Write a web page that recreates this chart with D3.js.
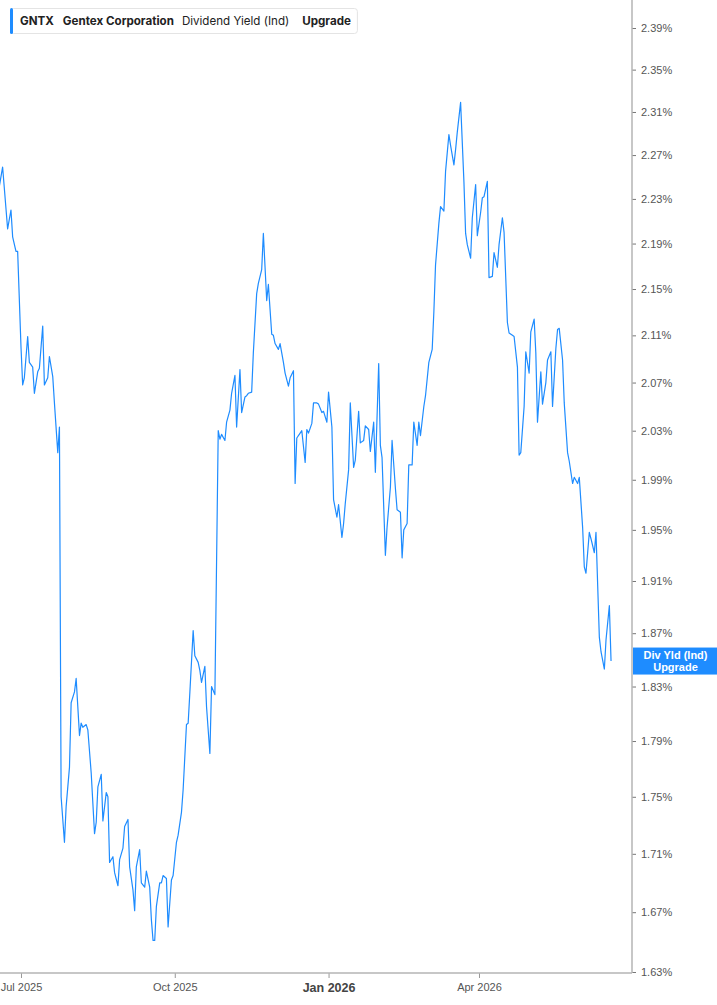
<!DOCTYPE html>
<html>
<head>
<meta charset="utf-8">
<script src="https://cdn.jsdelivr.net/npm/d3@7"></script>
<style>
  html, body { margin: 0; padding: 0; background: #fff; }
  svg { display: block; }
</style>
</head>
<body>
<svg id="chart" width="717" height="1005"></svg>
<script>
// ---- data ----
const dates = [
"2025-06-18","2025-06-20","2025-06-23","2025-06-25","2025-06-26","2025-06-28","2025-06-29","2025-07-01","2025-07-02","2025-07-03",
"2025-07-05","2025-07-06","2025-07-08","2025-07-09","2025-07-11","2025-07-12","2025-07-14","2025-07-15","2025-07-17","2025-07-18",
"2025-07-20","2025-07-21","2025-07-23","2025-07-24","2025-07-25","2025-07-27","2025-07-28","2025-07-30","2025-07-31","2025-08-02",
"2025-08-03","2025-08-05","2025-08-06","2025-08-07","2025-08-09","2025-08-10","2025-08-12","2025-08-14","2025-08-15","2025-08-16",
"2025-08-18","2025-08-19","2025-08-21","2025-08-22","2025-08-23","2025-08-25","2025-08-26","2025-08-28","2025-08-29","2025-08-31",
"2025-09-01","2025-09-03","2025-09-04","2025-09-06","2025-09-07","2025-09-08","2025-09-10","2025-09-11","2025-09-13","2025-09-14",
"2025-09-16","2025-09-17","2025-09-18","2025-09-19","2025-09-20","2025-09-22","2025-09-23","2025-09-24","2025-09-26","2025-09-27",
"2025-09-29","2025-09-30","2025-10-02","2025-10-03","2025-10-05","2025-10-06","2025-10-08","2025-10-09","2025-10-10","2025-10-12",
"2025-10-13","2025-10-15","2025-10-16","2025-10-17","2025-10-19","2025-10-20","2025-10-22","2025-10-23","2025-10-25","2025-10-27",
"2025-10-28","2025-10-29","2025-10-31","2025-11-01","2025-11-03","2025-11-04","2025-11-06","2025-11-07","2025-11-09","2025-11-10",
"2025-11-12","2025-11-13","2025-11-14","2025-11-16","2025-11-17","2025-11-19","2025-11-20","2025-11-22","2025-11-23","2025-11-25",
"2025-11-26","2025-11-28","2025-11-29","2025-11-30","2025-12-02","2025-12-03","2025-12-05","2025-12-06","2025-12-08","2025-12-09",
"2025-12-11","2025-12-12","2025-12-13","2025-12-15","2025-12-16","2025-12-18","2025-12-19","2025-12-20","2025-12-22","2025-12-23",
"2025-12-25","2025-12-26","2025-12-28","2025-12-29","2025-12-31","2026-01-01","2026-01-03","2026-01-04","2026-01-06","2026-01-07",
"2026-01-09","2026-01-10","2026-01-11","2026-01-13","2026-01-14","2026-01-16","2026-01-17","2026-01-19","2026-01-20","2026-01-22",
"2026-01-23","2026-01-25","2026-01-26","2026-01-28","2026-01-29","2026-01-31","2026-02-01","2026-02-02","2026-02-04","2026-02-05",
"2026-02-07","2026-02-08","2026-02-10","2026-02-11","2026-02-13","2026-02-14","2026-02-15","2026-02-17","2026-02-18","2026-02-20",
"2026-02-21","2026-02-23","2026-02-24","2026-02-25","2026-02-27","2026-02-28","2026-03-02","2026-03-04","2026-03-05","2026-03-06",
"2026-03-08","2026-03-09","2026-03-11","2026-03-12","2026-03-14","2026-03-15","2026-03-17","2026-03-18","2026-03-19","2026-03-21",
"2026-03-23","2026-03-24","2026-03-25","2026-03-27","2026-03-28","2026-03-30","2026-03-31","2026-04-02","2026-04-03","2026-04-04",
"2026-04-06","2026-04-07","2026-04-09","2026-04-10","2026-04-12","2026-04-13","2026-04-15","2026-04-16","2026-04-18","2026-04-19",
"2026-04-21","2026-04-22","2026-04-24","2026-04-25","2026-04-26","2026-04-28","2026-04-29","2026-05-01","2026-05-02","2026-05-04",
"2026-05-05","2026-05-06","2026-05-08","2026-05-09","2026-05-11","2026-05-12","2026-05-14","2026-05-15","2026-05-17","2026-05-18",
"2026-05-19","2026-05-21","2026-05-22","2026-05-24","2026-05-25","2026-05-27","2026-05-28","2026-05-30","2026-05-31","2026-06-02",
"2026-06-03","2026-06-04","2026-06-06","2026-06-07","2026-06-09","2026-06-10","2026-06-12","2026-06-13","2026-06-15","2026-06-16",
"2026-06-18","2026-06-19"
];
const divYield = [
2.241,2.259,2.203,2.220,2.196,2.183,2.183,2.100,2.068,2.074,
2.109,2.087,2.083,2.061,2.079,2.082,2.118,2.068,2.074,2.092,
2.075,2.053,2.012,2.033,1.750,1.718,1.743,1.771,1.818,1.826,
1.836,1.794,1.803,1.800,1.802,1.798,1.767,1.724,1.732,1.757,
1.766,1.733,1.753,1.750,1.704,1.708,1.697,1.688,1.706,1.714,
1.729,1.734,1.701,1.685,1.671,1.701,1.713,1.690,1.687,1.698,
1.687,1.665,1.651,1.651,1.674,1.690,1.690,1.695,1.693,1.660,
1.692,1.695,1.718,1.723,1.739,1.755,1.802,1.803,1.825,1.872,
1.853,1.848,1.842,1.833,1.845,1.815,1.781,1.830,1.824,2.030,
2.023,2.027,2.022,2.037,2.047,2.061,2.076,2.033,2.081,2.045,
2.058,2.059,2.061,2.062,2.095,2.146,2.155,2.167,2.199,2.140,
2.154,2.111,2.110,2.103,2.098,2.103,2.087,2.078,2.067,2.074,
2.080,1.987,2.024,2.028,2.030,2.004,2.031,2.028,2.036,2.053,
2.053,2.052,2.045,2.046,2.037,2.062,2.033,1.974,1.960,1.970,
1.944,1.955,1.971,1.998,2.053,2.000,2.006,2.046,2.020,2.022,
2.034,2.031,2.013,2.037,1.996,2.086,2.018,2.008,1.930,1.952,
1.984,2.022,1.983,1.966,1.964,1.928,1.950,1.955,2.002,2.002,
2.037,2.018,2.037,2.026,2.050,2.059,2.087,2.098,2.130,2.171,
2.208,2.223,2.219,2.255,2.289,2.279,2.261,2.275,2.291,2.319,
2.245,2.199,2.189,2.177,2.213,2.243,2.197,2.218,2.231,2.232,
2.246,2.160,2.161,2.182,2.169,2.189,2.213,2.200,2.121,2.112,
2.110,2.109,2.083,2.010,2.012,2.050,2.096,2.078,2.113,2.124,
2.095,2.037,2.079,2.052,2.070,2.089,2.096,2.050,2.099,2.115,
2.116,2.089,2.053,2.012,2.005,1.987,1.992,1.987,1.992,1.952,
1.921,1.916,1.948,1.943,1.932,1.948,1.867,1.856,1.843,1.865,
1.891,1.849
];
const yTickValues = [1.63,1.67,1.71,1.75,1.79,1.83,1.87,1.91,1.95,1.99,2.03,2.07,2.11,2.15,2.19,2.23,2.27,2.31,2.35,2.39];
const xTickDates = ["2025-07-01","2025-10-01","2026-01-01","2026-04-01"];
const xTickLabels = ["Jul 2025","Oct 2025","Jan 2026","Apr 2026"];
const legendItems = [
  {text: "GNTX", weight: 700},
  {text: "Gentex Corporation", weight: 700},
  {text: "Dividend Yield (Ind)", weight: 400},
  {text: "Upgrade", weight: 700}
];
const lastLabel = ["Div Yld (Ind)", "Upgrade"];

// ---- chart ----
const W = 717, H = 1005;
const plotRight = 632, plotBottom = 973;
const blue = "#1e8cff";
const parse = d3.utcParse("%Y-%m-%d");
const data = dates.map((d, i) => ({date: parse(d), value: divYield[i]}));

const svg = d3.select("#chart");

const x = d3.scaleUtc()
  .domain([new Date(Date.UTC(2025,5,18,10,34)), new Date(Date.UTC(2026,6,1,13,0))])
  .range([0, plotRight]);
const y = d3.scaleLog()
  .domain([1.63, 2.39])
  .range([plotBottom - 1, 28]);

// line
const line = d3.line().x(d => x(d.date)).y(d => y(d.value));
svg.append("path")
  .datum(data)
  .attr("fill", "none")
  .attr("stroke", blue)
  .attr("stroke-width", 1.2)
  .attr("stroke-linejoin", "round")
  .attr("d", line);

// y axis (right)
const yAxis = d3.axisRight(y)
  .tickValues(yTickValues)
  .tickFormat(d => d.toFixed(2) + "%")
  .tickSize(4)
  .tickPadding(5);
const yg = svg.append("g").attr("transform", `translate(${plotRight},0)`).call(yAxis);
yg.select(".domain").remove();
yg.selectAll(".tick line").attr("stroke", "#777").attr("stroke-width", 1);
yg.selectAll(".tick text")
  .attr("fill", "#555")
  .style("font-family", "'Liberation Sans', Arial, sans-serif")
  .style("font-size", "11px");
svg.append("line")
  .attr("x1", plotRight).attr("x2", plotRight)
  .attr("y1", 0).attr("y2", plotBottom)
  .attr("stroke", "#b4b4b4").attr("stroke-width", 1.5);

// x axis
const xAxis = d3.axisBottom(x)
  .tickValues(xTickDates.map(parse))
  .tickFormat((d, i) => xTickLabels[i])
  .tickSize(5)
  .tickPadding(5);
const xg = svg.append("g").attr("transform", `translate(0,${plotBottom})`).call(xAxis);
xg.select(".domain").remove();
xg.selectAll(".tick line").attr("stroke", "#999");
xg.selectAll(".tick text")
  .attr("fill", "#555")
  .style("font-family", "'Liberation Sans', Arial, sans-serif")
  .style("font-size", "11px")
  .filter((d, i) => xTickLabels[i].startsWith("Jan"))
  .attr("fill", "#444")
  .style("font-weight", "700")
  .style("font-size", "12.5px");
svg.append("line")
  .attr("x1", 0).attr("x2", plotRight)
  .attr("y1", plotBottom).attr("y2", plotBottom)
  .attr("stroke", "#b4b4b4").attr("stroke-width", 1.5);

// last value label
const last = data[data.length - 1];
const ly = y(last.value);
const lbl = svg.append("g");
lbl.append("rect")
  .attr("x", plotRight + 1).attr("y", ly - 13.5)
  .attr("width", W - plotRight - 1).attr("height", 27)
  .attr("fill", blue);
lastLabel.forEach((t, i) => {
  lbl.append("text")
    .attr("x", (plotRight + W) / 2 + 1)
    .attr("y", ly - 2 + i * 11.5)
    .attr("text-anchor", "middle")
    .attr("fill", "#fff")
    .style("font-family", "'Liberation Sans', Arial, sans-serif")
    .style("font-weight", "700")
    .style("font-size", "11px")
    .text(t);
});

// legend
const lg = svg.append("g");
const lgBox = lg.append("rect")
  .attr("x", 10.5).attr("y", 8.5).attr("height", 25).attr("rx", 3)
  .attr("fill", "#fff").attr("stroke", "#e4e4e4");
lg.append("rect").attr("x", 10).attr("y", 8).attr("width", 3).attr("height", 26).attr("rx", 1.5).attr("fill", blue);
let cx = 20;
const gaps = [9, 8, 13, 0];
legendItems.forEach((it, i) => {
  const t = lg.append("text")
    .attr("x", cx).attr("y", 25)
    .attr("fill", "#222")
    .style("font-family", "Inter, 'Noto Sans', sans-serif")
    .style("font-size", "11.6px")
    .style("font-weight", it.weight)
    .text(it.text);
  cx += t.node().getComputedTextLength() + gaps[i];
});
lgBox.attr("width", cx - 10 + 6);
</script>
</body>
</html>
